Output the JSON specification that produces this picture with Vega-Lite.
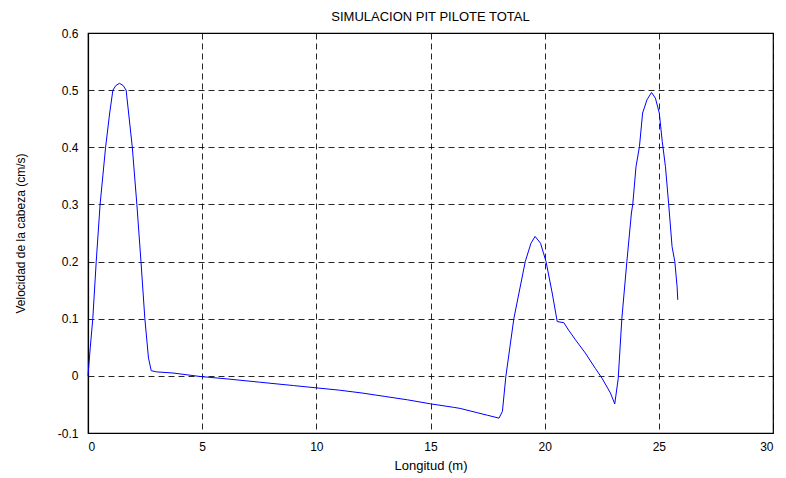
{
  "$schema": "https://vega.github.io/schema/vega-lite/v6.json",
  "autosize": "none",
  "width": 685,
  "height": 400,
  "padding": {"left": 88, "top": 33, "right": 13, "bottom": 45},
  "background": "white",
  "title": {"text": "SIMULACION PIT PILOTE TOTAL", "font": "Liberation Sans", "fontSize": 13, "fontWeight": "normal", "color": "black", "offset": 3, "anchor": "middle"},
  "config": {"view": {"stroke": "black", "strokeWidth": 1.2}},
  "data": {"values": [
    {"x": 0, "v": 0}, {"x": 0.1, "v": 0.05}, {"x": 0.21, "v": 0.1}, {"x": 0.36, "v": 0.2},
    {"x": 0.53, "v": 0.3}, {"x": 0.77, "v": 0.4}, {"x": 0.95, "v": 0.46}, {"x": 1.09, "v": 0.5},
    {"x": 1.22, "v": 0.508}, {"x": 1.38, "v": 0.512}, {"x": 1.54, "v": 0.508}, {"x": 1.67, "v": 0.5},
    {"x": 1.94, "v": 0.4}, {"x": 2.14, "v": 0.3}, {"x": 2.32, "v": 0.2}, {"x": 2.49, "v": 0.1},
    {"x": 2.65, "v": 0.031}, {"x": 2.77, "v": 0.009}, {"x": 3.0, "v": 0.007}, {"x": 3.72, "v": 0.005},
    {"x": 4.89, "v": -0.001}, {"x": 6, "v": -0.005}, {"x": 7.5, "v": -0.011}, {"x": 9, "v": -0.017},
    {"x": 10, "v": -0.021}, {"x": 11, "v": -0.025}, {"x": 12, "v": -0.03}, {"x": 13, "v": -0.036},
    {"x": 14, "v": -0.042}, {"x": 15, "v": -0.049}, {"x": 16, "v": -0.055}, {"x": 16.3, "v": -0.057},
    {"x": 17, "v": -0.064}, {"x": 17.5, "v": -0.069}, {"x": 18.0, "v": -0.074}, {"x": 18.15, "v": -0.062},
    {"x": 18.3, "v": -0.001}, {"x": 18.65, "v": 0.1}, {"x": 19.15, "v": 0.2}, {"x": 19.4, "v": 0.232},
    {"x": 19.58, "v": 0.244}, {"x": 19.82, "v": 0.232}, {"x": 20.06, "v": 0.2}, {"x": 20.33, "v": 0.145},
    {"x": 20.55, "v": 0.095}, {"x": 20.84, "v": 0.093}, {"x": 21.05, "v": 0.08}, {"x": 21.35, "v": 0.063},
    {"x": 21.78, "v": 0.04}, {"x": 22.22, "v": 0.013}, {"x": 22.51, "v": -0.004}, {"x": 22.88, "v": -0.03},
    {"x": 23.07, "v": -0.049}, {"x": 23.22, "v": -0.005}, {"x": 23.38, "v": 0.1}, {"x": 23.6, "v": 0.2},
    {"x": 23.8, "v": 0.285}, {"x": 23.86, "v": 0.301}, {"x": 24.0, "v": 0.366}, {"x": 24.15, "v": 0.401},
    {"x": 24.29, "v": 0.46}, {"x": 24.48, "v": 0.483}, {"x": 24.68, "v": 0.496}, {"x": 24.85, "v": 0.486},
    {"x": 25.02, "v": 0.46}, {"x": 25.15, "v": 0.41}, {"x": 25.29, "v": 0.366}, {"x": 25.43, "v": 0.301},
    {"x": 25.58, "v": 0.226}, {"x": 25.7, "v": 0.2}, {"x": 25.8, "v": 0.156}, {"x": 25.83, "v": 0.133}
  ]},
  "mark": {"type": "line", "color": "#0000ff", "strokeWidth": 1, "interpolate": "linear"},
  "encoding": {
    "x": {"field": "x", "type": "quantitative", "sort": null,
      "scale": {"domain": [0, 30], "nice": false, "zero": false},
      "axis": {"title": "Longitud (m)", "values": [0, 5, 10, 15, 20, 25, 30],
        "grid": true, "gridColor": "black", "gridDash": [6, 4], "gridWidth": 1, "gridOpacity": 0.85,
        "ticks": false, "domain": true, "domainColor": "black", "domainWidth": 1.2,
        "labelFont": "Liberation Sans", "labelFontSize": 12, "labelColor": "black", "labelPadding": 8,
        "titleFont": "Liberation Sans", "titleFontSize": 13, "titleFontWeight": "normal", "titleColor": "black", "titlePadding": 7}},
    "y": {"field": "v", "type": "quantitative",
      "scale": {"domain": [-0.1, 0.6], "nice": false, "zero": false},
      "axis": {"title": "Velocidad de la cabeza (cm/s)", "values": [-0.1, 0, 0.1, 0.2, 0.3, 0.4, 0.5, 0.6],
        "labelExpr": "datum.value == 0 ? '0' : (datum.value < 0 ? '-' + format(-datum.value, '.1f') : format(datum.value, '.1f'))",
        "grid": true, "gridColor": "black", "gridDash": [6, 4], "gridWidth": 1, "gridOpacity": 0.85,
        "ticks": false, "domain": true, "domainColor": "black", "domainWidth": 1.2,
        "labelFont": "Liberation Sans", "labelFontSize": 12, "labelColor": "black", "labelPadding": 10,
        "titleFont": "Liberation Sans", "titleFontSize": 12, "titleFontWeight": "normal", "titleColor": "black", "titlePadding": 30}}
  }
}
